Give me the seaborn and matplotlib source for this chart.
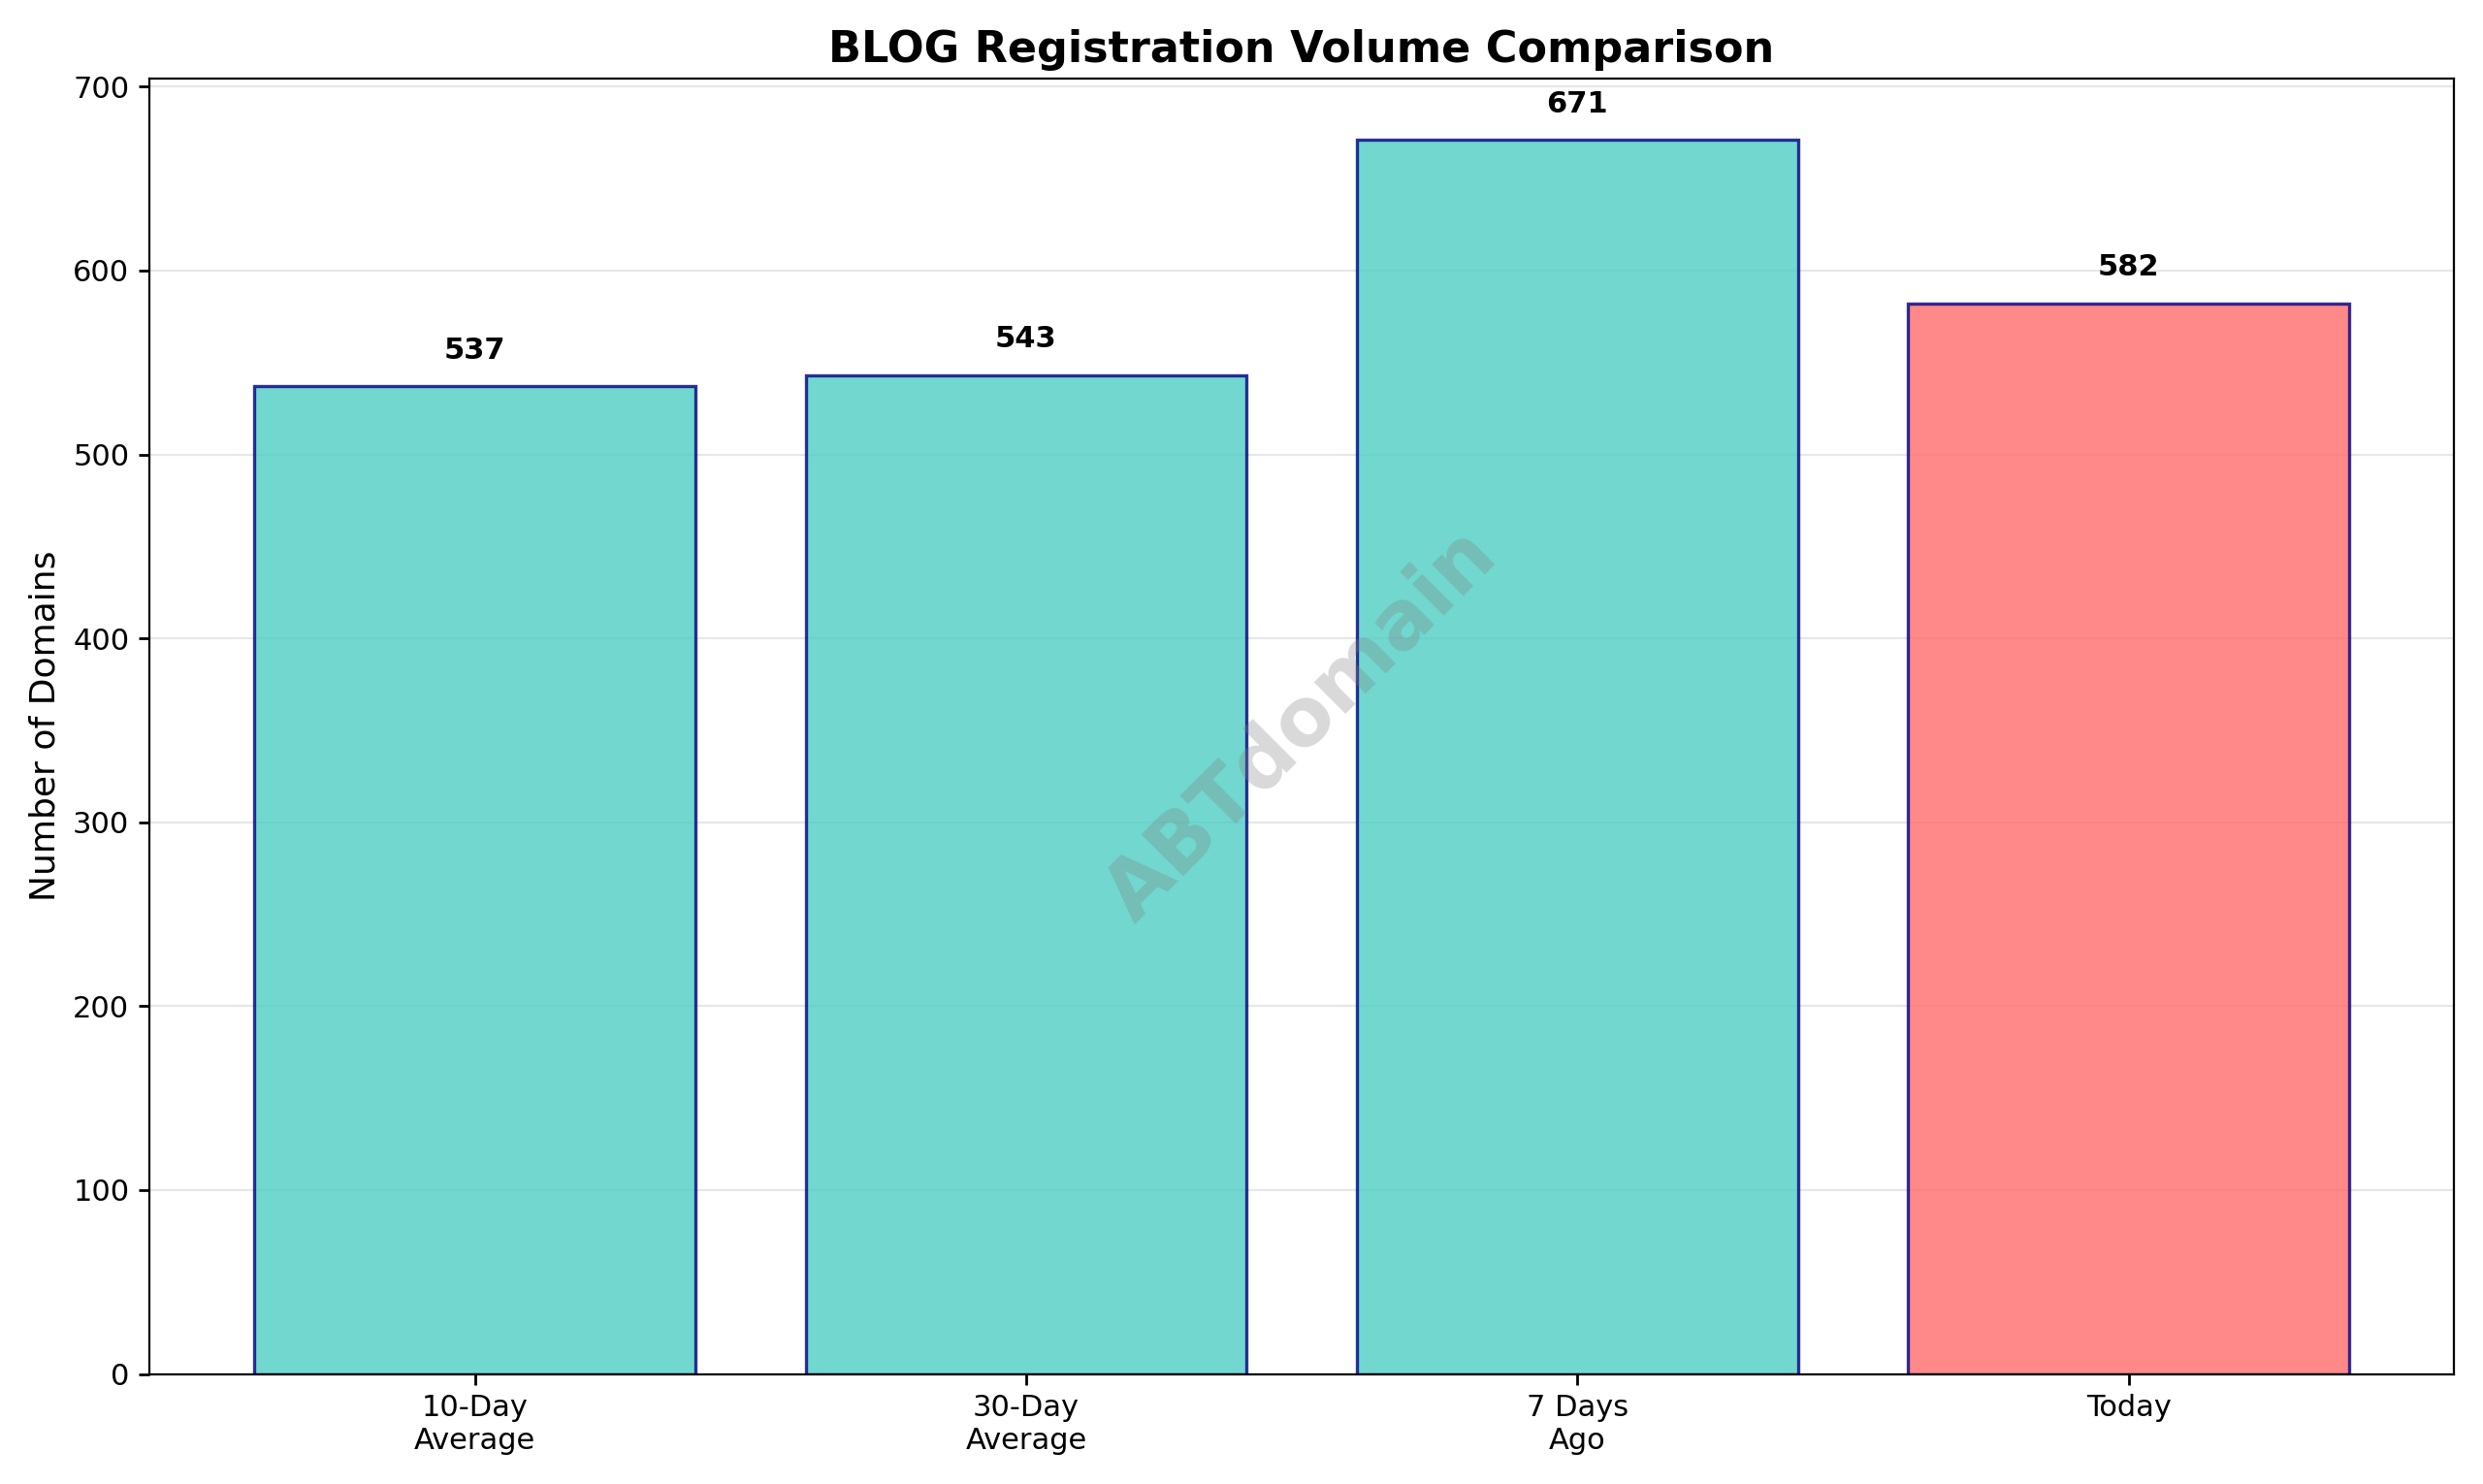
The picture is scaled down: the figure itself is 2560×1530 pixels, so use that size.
import matplotlib
matplotlib.use("Agg")
import matplotlib.pyplot as plt
import seaborn as sns
import pandas as pd

categories = ["10-Day\nAverage", "30-Day\nAverage", "7 Days\nAgo", "Today"]
values = [537, 543, 671, 582]
bar_colors = ["#4ECDC4", "#4ECDC4", "#4ECDC4", "#FF6B6B"]

df = pd.DataFrame({"period": categories, "domains": values})

sns.set_style("white")
plt.rcParams["font.family"] = ["DejaVu Sans"]
for k in ["text.color", "axes.labelcolor", "xtick.color", "ytick.color"]:
    plt.rcParams[k] = "black"

fig, ax = plt.subplots(figsize=(12.8, 7.65), dpi=200)
sns.barplot(data=df, x="period", y="domains", hue="period", palette=bar_colors,
            legend=False, alpha=0.8, edgecolor="navy", linewidth=1.2, width=0.8,
            saturation=1, ax=ax)

for i, v in enumerate(values):
    ax.text(i, v + 12, str(v), ha="center", va="bottom", fontsize=11, fontweight="bold")

ax.set_xlim(-0.59, 3.59)
ax.set_ylim(0, max(values) * 1.05)
ax.set_title("BLOG Registration Volume Comparison", fontsize=16, fontweight="bold")
ax.set_ylabel("Number of Domains", fontsize=13)
ax.set_xlabel("")
ax.tick_params(axis="both", labelsize=11, length=4, width=1, left=True, bottom=True)
ax.grid(axis="y", alpha=0.3, color="#b0b0b0")
ax.set_axisbelow(True)
for s in ax.spines.values():
    s.set_color("black")

ax.text(0.5, 0.5, "ABTdomain", transform=ax.transAxes, fontsize=30, color="gray",
        alpha=0.3, ha="center", va="center", rotation=45, fontweight="bold")

plt.tight_layout()
plt.savefig("out.png", dpi=200)
